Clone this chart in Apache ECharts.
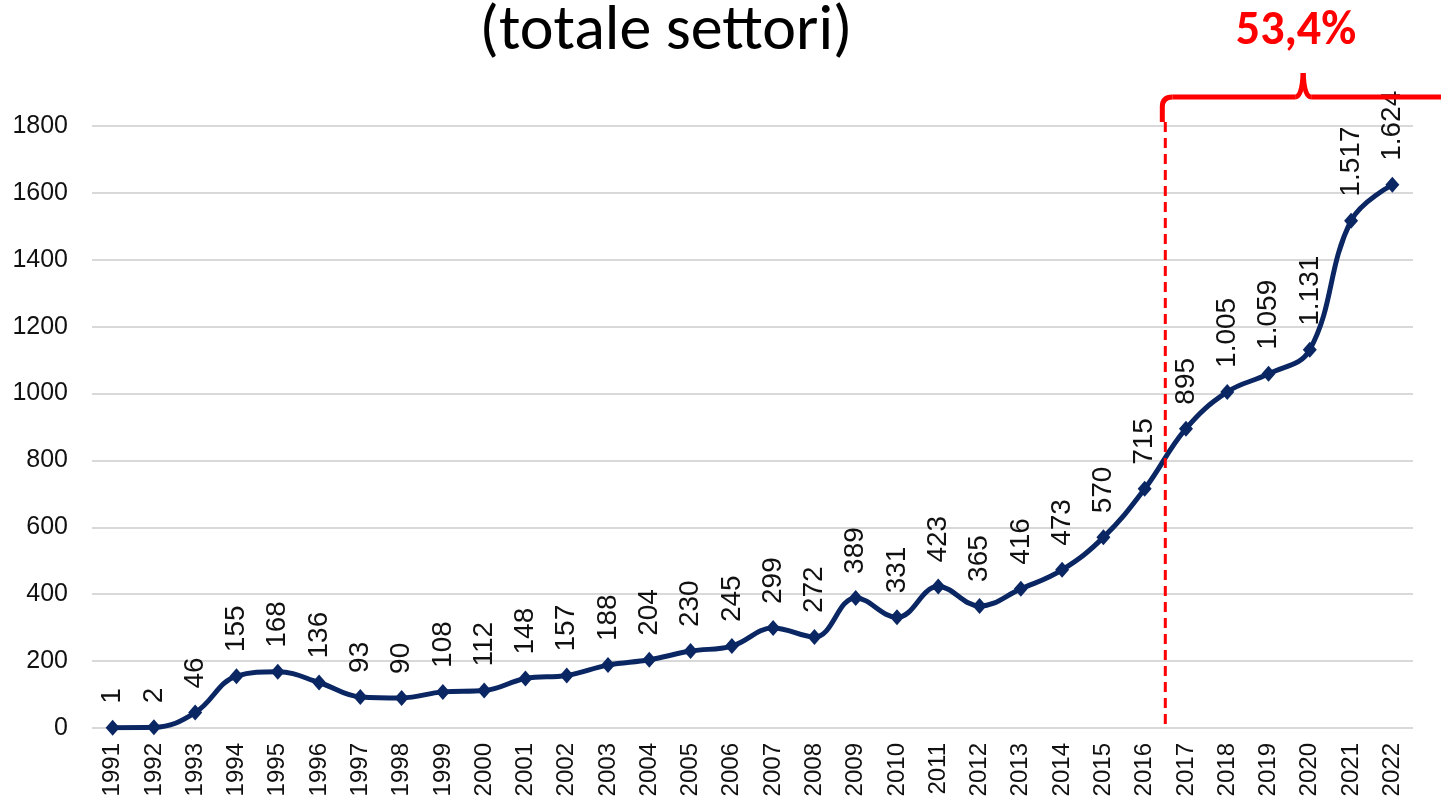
<!DOCTYPE html>
<html>
<head>
<meta charset="utf-8">
<title>totale settori</title>
<script src="https://cdn.jsdelivr.net/npm/echarts@6/dist/echarts.min.js"></script>
<style>
  html, body { margin: 0; padding: 0; background: #fff; }
  #myChart { width: 1441px; height: 804px; }
</style>
</head>
<body>
<div id="myChart"></div>
<script>
// dati
var anni = ['1991','1992','1993','1994','1995','1996','1997','1998','1999','2000',
  '2001','2002','2003','2004','2005','2006','2007','2008','2009','2010',
  '2011','2012','2013','2014','2015','2016','2017','2018','2019','2020','2021','2022'];
var valori = [1, 2, 46, 155, 168, 136, 93, 90, 108, 112,
  148, 157, 188, 204, 230, 245, 299, 272, 389, 331,
  423, 365, 416, 473, 570, 715, 895, 1005, 1059, 1131, 1517, 1624];
var yTicks = [0, 200, 400, 600, 800, 1000, 1200, 1400, 1600, 1800];
var titolo = '(totale settori)';
var percentuale = '53,4%';
var annoPrima = '2016', annoDopo = '2017';

var arialFont = "'Liberation Sans', Arial, sans-serif";
var calibriFont = "Carlito, 'Liberation Sans Narrow', 'Open Sans', sans-serif";

function formatIt(v) {
  return String(v).replace(/\B(?=(\d{3})+(?!\d))/g, '.');
}

let myChart = echarts.init(document.getElementById('myChart'), null, {renderer: 'canvas'});

myChart.setOption({
  animation: false,
  grid: {
    left: 92,
    right: 28,
    top: 126,
    bottom: 76
  },
  xAxis: {
    type: 'category',
    data: anni,
    boundaryGap: true,
    axisLine: {show: false},
    axisTick: {show: false},
    axisLabel: {
      rotate: 90,
      interval: 0,
      margin: 15,
      color: '#111',
      fontSize: 24,
      fontFamily: arialFont
    }
  },
  yAxis: {
    type: 'value',
    min: yTicks[0],
    max: yTicks[yTicks.length - 1],
    interval: 200,
    axisLine: {show: false},
    axisTick: {show: false},
    axisLabel: {
      margin: 24,
      color: '#111',
      fontSize: 25,
      fontFamily: arialFont,
      formatter: function (v) { return String(v); }
    },
    splitLine: {
      lineStyle: {color: '#d9d9d9', width: 2}
    }
  },
  series: [{
    type: 'line',
    data: valori,
    smooth: 0.4,
    symbol: 'diamond',
    symbolSize: [14, 16],
    lineStyle: {color: '#0a2663', width: 5},
    itemStyle: {color: '#0a2663'},
    label: {
      show: true,
      position: 'top',
      rotate: 90,
      align: 'left',
      verticalAlign: 'middle',
      distance: 16,
      color: '#111',
      fontSize: 28,
      fontFamily: arialFont,
      formatter: function (p) { return formatIt(p.value); }
    }
  }]
});

// annotazioni: linea tratteggiata, parentesi graffa, titolo e percentuale
var x1 = myChart.convertToPixel({xAxisIndex: 0}, annoPrima);
var x2 = myChart.convertToPixel({xAxisIndex: 0}, annoDopo);
var xs = (x1 + x2) / 2;
var yZero = myChart.convertToPixel({yAxisIndex: 0}, 0);
var yTop = myChart.convertToPixel({yAxisIndex: 0}, 1800) - 4;
var yBrace = yTop - 25;
var xEnd = 1460;
var xMid = (xs + 1441) / 2;
var xl = xs - 3;
var redLine = {stroke: '#ff0000', lineWidth: 5, fill: null};

myChart.setOption({
  graphic: [
    {
      type: 'line',
      shape: {x1: xs, y1: yTop, x2: xs, y2: yZero},
      style: {stroke: '#ff0000', lineWidth: 3, lineDash: [10, 6]},
      z: 10
    },
    // parentesi graffa
    {
      type: 'polyline',
      shape: {points: [[xl, yTop], [xl, yBrace + 10]]},
      style: redLine, z: 10
    },
    {
      type: 'bezierCurve',
      shape: {x1: xl, y1: yBrace + 10, x2: xl + 10, y2: yBrace, cpx1: xl, cpy1: yBrace},
      style: redLine, z: 10
    },
    {
      type: 'line',
      shape: {x1: xl + 10, y1: yBrace, x2: xMid - 8, y2: yBrace},
      style: redLine, z: 10
    },
    {
      type: 'bezierCurve',
      shape: {x1: xMid - 8, y1: yBrace, x2: xMid, y2: yBrace - 24, cpx1: xMid - 1, cpy1: yBrace},
      style: redLine, z: 10
    },
    {
      type: 'bezierCurve',
      shape: {x1: xMid, y1: yBrace - 24, x2: xMid + 8, y2: yBrace, cpx1: xMid + 1, cpy1: yBrace},
      style: redLine, z: 10
    },
    {
      type: 'line',
      shape: {x1: xMid + 8, y1: yBrace, x2: xEnd, y2: yBrace},
      style: redLine, z: 10
    },
    {
      type: 'text',
      x: 666,
      y: 33,
      style: {
        text: titolo,
        fill: '#000',
        font: 'normal 64px ' + calibriFont,
        textAlign: 'center',
        textVerticalAlign: 'middle'
      }
    },
    {
      type: 'text',
      x: 1296,
      y: 32,
      style: {
        text: percentuale,
        fill: '#ff0000',
        font: 'bold 48px ' + calibriFont,
        textAlign: 'center',
        textVerticalAlign: 'middle'
      }
    }
  ]
});
</script>
</body>
</html>
